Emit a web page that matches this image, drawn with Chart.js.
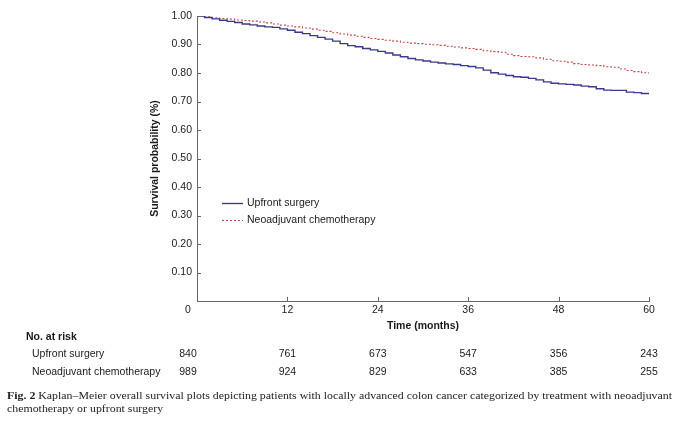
<!DOCTYPE html>
<html>
<head>
<meta charset="utf-8">
<script src="https://cdn.jsdelivr.net/npm/chart.js@4.4.1/dist/chart.umd.min.js"></script>
<style>
  html, body { margin: 0; padding: 0; background: #fff; }
  #wrap { width: 680px; height: 423px; position: relative; }
</style>
</head>
<body>
<div id="wrap"><canvas id="km_chart"></canvas></div>
<script>
// months
var months = [0, 1, 2, 3, 4, 5, 6, 7, 8, 9, 10, 11, 12, 13, 14, 15, 16, 17, 18, 19, 20,
  21, 22, 23, 24, 25, 26, 27, 28, 29, 30, 31, 32, 33, 34, 35, 36, 37, 38, 39, 40,
  41, 42, 43, 44, 45, 46, 47, 48, 49, 50, 51, 52, 53, 54, 55, 56, 57, 58, 59, 60];

var upfrontSurv = [1.000, 0.995, 0.990, 0.985, 0.981, 0.977, 0.972, 0.969, 0.965, 0.962, 0.960,
  0.955, 0.950, 0.943, 0.938, 0.931, 0.925, 0.919, 0.912, 0.903, 0.896,
  0.892, 0.886, 0.881, 0.876, 0.870, 0.863, 0.857, 0.851, 0.846, 0.842,
  0.838, 0.835, 0.832, 0.830, 0.826, 0.823, 0.818, 0.810, 0.801, 0.796,
  0.791, 0.787, 0.785, 0.781, 0.776, 0.769, 0.764, 0.762, 0.760, 0.758,
  0.754, 0.752, 0.745, 0.740, 0.739, 0.739, 0.733, 0.731, 0.728, 0.726];

var neoSurv = [1.000, 0.997, 0.994, 0.991, 0.989, 0.986, 0.984, 0.982, 0.979, 0.976, 0.972,
  0.968, 0.965, 0.962, 0.958, 0.954, 0.950, 0.946, 0.941, 0.937, 0.933,
  0.929, 0.925, 0.921, 0.918, 0.915, 0.912, 0.908, 0.905, 0.903, 0.901,
  0.899, 0.897, 0.894, 0.891, 0.888, 0.886, 0.883, 0.878, 0.875, 0.873,
  0.866, 0.861, 0.858, 0.857, 0.853, 0.848, 0.843, 0.841, 0.838, 0.833,
  0.830, 0.828, 0.826, 0.822, 0.820, 0.814, 0.809, 0.805, 0.801, 0.797];

var seriesNames = ["Upfront surgery", "Neoadjuvant chemotherapy"];
var xTicks = [0, 12, 24, 36, 48, 60];
var yTicks = [0, 0.1, 0.2, 0.3, 0.4, 0.5, 0.6, 0.7, 0.8, 0.9, 1.0];
var riskUpfront = [840, 761, 673, 547, 356, 243];
var riskNeo = [989, 924, 829, 633, 385, 255];

var captionLine1 = "Kaplan\u2013Meier overall survival plots depicting patients with locally advanced colon cancer categorized by treatment with neoadjuvant";
var captionLine2 = "chemotherapy or upfront surgery";

var SANS = "'Liberation Sans', Arial, Helvetica, sans-serif";
var SERIF = "'Liberation Serif', 'DejaVu Serif', serif";
var AXIS = '#666';
var INK = '#1a1a1a';

function toPoints(xs, ys) {
  return xs.map(function(x, i) { return {x: x, y: ys[i]}; });
}

var kmData = {
  datasets: [
    {
      label: seriesNames[0],
      data: toPoints(months, upfrontSurv),
      borderColor: '#3b3a8c',
      borderWidth: 1.4,
      stepped: true,
      pointRadius: 0,
      fill: false
    }, {
      label: seriesNames[1],
      data: toPoints(months, neoSurv),
      borderColor: '#c4484c',
      borderWidth: 1.1,
      borderDash: [2, 2],
      stepped: true,
      pointRadius: 0,
      fill: false
    }
  ]
};

// inward ticks, origin label, legend, risk table and caption
var extrasPlugin = {
  id: 'kmExtras',
  afterDraw: function(chart) {
    var ctx = chart.ctx;
    var xs = chart.scales.x, ys = chart.scales.y;
    var area = chart.chartArea;
    ctx.save();

    ctx.strokeStyle = AXIS;
    ctx.lineWidth = 1;
    ctx.beginPath();
    xTicks.forEach(function(v) {
      var px = Math.round(xs.getPixelForValue(v)) + 0.5;
      ctx.moveTo(px, area.bottom);
      ctx.lineTo(px, area.bottom - 4);
    });
    yTicks.forEach(function(v) {
      var py = Math.round(ys.getPixelForValue(v)) + 0.5;
      ctx.moveTo(area.left, py);
      ctx.lineTo(area.left + 4, py);
    });
    ctx.stroke();

    var originX = area.left - 9;
    ctx.fillStyle = INK;
    ctx.font = "10.5px " + SANS;
    ctx.textAlign = 'center';
    ctx.textBaseline = 'middle';
    ctx.fillText("0", originX, 310);

    // legend
    chart.data.datasets.forEach(function(ds, i) {
      var ly = 203 + i * 17;
      ctx.strokeStyle = ds.borderColor;
      ctx.lineWidth = ds.borderWidth;
      ctx.setLineDash(ds.borderDash || []);
      ctx.beginPath();
      ctx.moveTo(222, ly + 0.5);
      ctx.lineTo(243, ly + 0.5);
      ctx.stroke();
      ctx.setLineDash([]);
      ctx.fillStyle = INK;
      ctx.textAlign = 'left';
      ctx.fillText(ds.label, 247, ly);
    });

    // number at risk
    ctx.textAlign = 'left';
    ctx.font = "bold 10.5px " + SANS;
    ctx.fillText("No. at risk", 26, 337);
    ctx.font = "10.5px " + SANS;
    ctx.fillText(seriesNames[0], 32, 354);
    ctx.fillText(seriesNames[1], 32, 372);
    ctx.textAlign = 'center';
    xTicks.forEach(function(v, i) {
      var cx = i === 0 ? originX : xs.getPixelForValue(v);
      ctx.fillText(String(riskUpfront[i]), cx, 354);
      ctx.fillText(String(riskNeo[i]), cx, 372);
    });

    // caption, stretched sideways to the width of the original line
    ctx.textAlign = 'left';
    ctx.fillStyle = '#222';
    var size = 11;
    ctx.font = "bold " + size + "px " + SERIF;
    var w0 = ctx.measureText("Fig. 2 ").width;
    ctx.font = size + "px " + SERIF;
    var w1 = ctx.measureText(captionLine1).width;
    var sx = 665 / (w0 + w1);
    ctx.translate(7, 0);
    ctx.scale(sx, 1);
    ctx.font = "bold " + size + "px " + SERIF;
    ctx.fillText("Fig. 2", 0, 396);
    ctx.font = size + "px " + SERIF;
    ctx.fillText(captionLine1, w0, 396);
    ctx.fillText(captionLine2, 0, 409.5);

    ctx.restore();
  }
};

var kmOptions = {
  responsive: true,
  maintainAspectRatio: false,
  animation: false,
  events: [],
  layout: { padding: { left: 0, top: 16, right: 31, bottom: 90 } },
  plugins: { legend: { display: false }, tooltip: { enabled: false } },
  scales: {
    x: {
      type: 'linear',
      min: 0,
      max: 60,
      afterFit: function(scale) { scale.height = 32; },
      afterBuildTicks: function(scale) { scale.ticks = xTicks.map(function(v) { return {value: v}; }); },
      grid: { display: false, drawTicks: false, tickLength: 0 },
      border: { display: true, color: AXIS, width: 1 },
      ticks: {
        padding: 3,
        color: INK,
        font: { family: SANS, size: 10.5 },
        callback: function(v) { return v === 0 ? '' : String(v); }
      },
      title: {
        display: true,
        text: 'Time (months)',
        color: INK,
        font: { family: SANS, size: 10.5, weight: 'bold' },
        padding: { top: 0, bottom: 0.7 }
      }
    },
    y: {
      min: 0,
      max: 1,
      afterFit: function(scale) { scale.width = 197; },
      afterBuildTicks: function(scale) { scale.ticks = yTicks.map(function(v) { return {value: v}; }); },
      grid: { display: false, drawTicks: false, tickLength: 0 },
      border: { display: true, color: AXIS, width: 1 },
      ticks: {
        padding: 5,
        color: INK,
        font: { family: SANS, size: 10.5 },
        callback: function(v) { return v === 0 ? '' : Number(v).toFixed(2); }
      },
      title: {
        display: true,
        text: 'Survival probability (%)',
        color: INK,
        font: { family: SANS, size: 10.5, weight: 'bold' },
        padding: { top: 148.7, bottom: 0 }
      }
    }
  }
};

var ctx1 = document.getElementById("km_chart");
new Chart(ctx1, {type: 'line', data: kmData, options: kmOptions, plugins: [extrasPlugin]});
</script>
</body>
</html>
